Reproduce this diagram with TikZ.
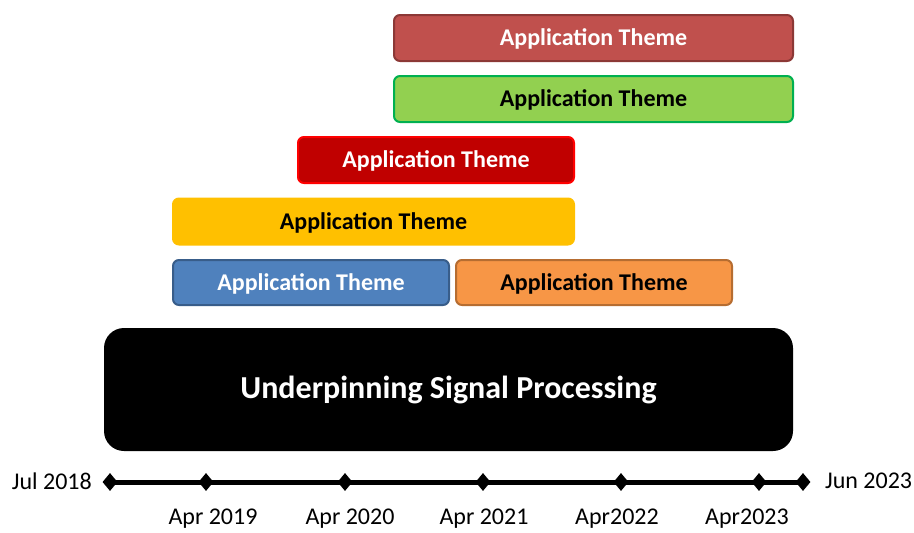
\documentclass[tikz,border=0pt]{standalone}
\usepackage{fontspec}
\setmainfont{Carlito}
\usetikzlibrary{shapes.geometric}
\definecolor{cRedA}{HTML}{C0504D}\definecolor{cRedAb}{HTML}{8C3836}
\definecolor{cGreen}{HTML}{92D050}\definecolor{cGreenb}{HTML}{00B050}
\definecolor{cDRed}{HTML}{C00000}\definecolor{cDRedb}{HTML}{FF0000}
\definecolor{cYel}{HTML}{FFC000}
\definecolor{cBlue}{HTML}{4F81BD}\definecolor{cBlueb}{HTML}{385D8A}
\definecolor{cOra}{HTML}{F79646}\definecolor{cOrab}{HTML}{B66D31}
\tikzset{
  theme/.style={draw, line width=2pt, rounded corners=6pt, inner sep=0pt, minimum height=46pt, text depth=1pt, font=\fontsize{24}{26}\selectfont\bfseries},
  tick/.style={diamond, fill=black, inner sep=0pt, minimum width=15pt, minimum height=18pt},
  datelbl/.style={font=\fontsize{24}{26}\selectfont, inner sep=0pt}
}
\begin{document}
\begin{tikzpicture}[x=1pt,y=-1pt]
\useasboundingbox (0,0) rectangle (914,533);
\node[theme, fill=cRedA, draw=cRedAb, text=white, minimum width=399pt] (t1) at (593.5,38) {Application Theme};
\node[theme, fill=cGreen, draw=cGreenb, text=black, minimum width=399pt] (t2) at (593.5,99) {Application Theme};
\node[theme, fill=cDRed, draw=cDRedb, text=white, minimum width=276pt] (t3) at (436,160) {Application Theme};
\node[theme, fill=cYel, draw=cYel, text=black, minimum width=401pt] (t4) at (373.5,221.5) {Application Theme};
\node[theme, fill=cBlue, draw=cBlueb, text=white, minimum width=276pt, minimum height=45pt] (t5) at (311,282.5) {Application Theme};
\node[theme, fill=cOra, draw=cOrab, text=black, minimum width=276pt, minimum height=45pt] (t6) at (594,282.5) {Application Theme};
\node[fill=black, rounded corners=20pt, minimum width=689pt, minimum height=123pt, inner sep=0pt, text=white, font=\fontsize{32}{34}\selectfont\bfseries] (usp) at (448.5,389.5) {Underpinning Signal Processing};
\node[tick] (d0) at (110,482) {};
\node[tick] (d1) at (206,482) {};
\node[tick] (d2) at (345,482) {};
\node[tick] (d3) at (483,482) {};
\node[tick] (d4) at (621,482) {};
\node[tick] (d5) at (759,482) {};
\node[tick] (d6) at (803,482) {};
\draw[line width=5pt] (d0.center) -- (d6.center);
\node[datelbl, anchor=east] (l0) at (92,481) {Jul 2018};
\node[datelbl, anchor=west] (l6) at (825,481) {Jun 2023};
\node[datelbl] (l1) at (213,519) {Apr 2019};
\node[datelbl] (l2) at (350,519) {Apr 2020};
\node[datelbl] (l3) at (484,519) {Apr 2021};
\node[datelbl] (l4) at (617,519) {Apr2022};
\node[datelbl] (l5) at (747,519) {Apr2023};
\end{tikzpicture}
\end{document}
